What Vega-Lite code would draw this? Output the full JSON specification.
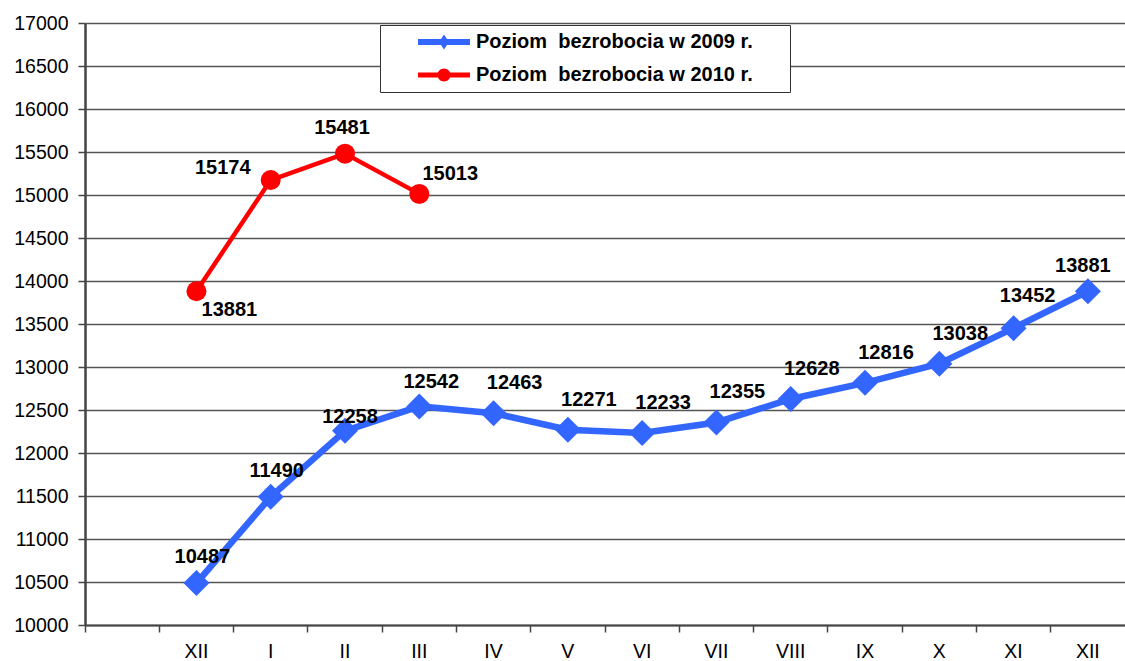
{
  "$schema": "https://vega.github.io/schema/vega-lite/v6.json",
  "width": 1040,
  "height": 602,
  "autosize": {"type": "none"},
  "padding": {"left": 85, "top": 23, "right": 0, "bottom": 36},
  "background": "white",
  "config": {
    "view": {"stroke": null},
    "font": "Liberation Sans",
    "text": {"font": "Liberation Sans"}
  },
  "data": {
    "values": [
      {"miesiac": "XIIp", "seria": "2009", "wartosc": 10487},
      {"miesiac": "I", "seria": "2009", "wartosc": 11490},
      {"miesiac": "II", "seria": "2009", "wartosc": 12258},
      {"miesiac": "III", "seria": "2009", "wartosc": 12542},
      {"miesiac": "IV", "seria": "2009", "wartosc": 12463},
      {"miesiac": "V", "seria": "2009", "wartosc": 12271},
      {"miesiac": "VI", "seria": "2009", "wartosc": 12233},
      {"miesiac": "VII", "seria": "2009", "wartosc": 12355},
      {"miesiac": "VIII", "seria": "2009", "wartosc": 12628},
      {"miesiac": "IX", "seria": "2009", "wartosc": 12816},
      {"miesiac": "X", "seria": "2009", "wartosc": 13038},
      {"miesiac": "XI", "seria": "2009", "wartosc": 13452},
      {"miesiac": "XII", "seria": "2009", "wartosc": 13881},
      {"miesiac": "XIIp", "seria": "2010", "wartosc": 13881},
      {"miesiac": "I", "seria": "2010", "wartosc": 15174},
      {"miesiac": "II", "seria": "2010", "wartosc": 15481},
      {"miesiac": "III", "seria": "2010", "wartosc": 15013}
    ]
  },
  "encoding": {
    "x": {
      "field": "miesiac",
      "type": "nominal",
      "sort": null,
      "scale": {
        "type": "band",
        "domain": ["start", "XIIp", "I", "II", "III", "IV", "V", "VI", "VII", "VIII", "IX", "X", "XI", "XII"],
        "paddingInner": 0,
        "paddingOuter": 0
      },
      "axis": {
        "title": null,
        "bandPosition": 0,
        "labelExpr": "datum.value == 'start' ? '' : (datum.value == 'XIIp' ? 'XII' : datum.value)",
        "labelAngle": 0,
        "labelOverlap": false,
        "labelFontSize": 19.5,
        "labelFont": "Liberation Sans",
        "labelColor": "black",
        "labelPadding": 10,
        "tickSize": 7,
        "tickColor": "#444444",
        "tickWidth": 1.5,
        "domainColor": "#444444",
        "domainWidth": 2,
        "grid": false
      }
    },
    "y": {
      "field": "wartosc",
      "type": "quantitative",
      "scale": {"domain": [10000, 17000], "nice": false, "zero": false},
      "axis": {
        "title": null,
        "values": [10000, 10500, 11000, 11500, 12000, 12500, 13000, 13500, 14000, 14500, 15000, 15500, 16000, 16500, 17000],
        "format": "d",
        "labelFontSize": 19.5,
        "labelFont": "Liberation Sans",
        "labelColor": "black",
        "labelPadding": 10,
        "tickSize": 7,
        "tickColor": "#444444",
        "tickWidth": 1.5,
        "domainColor": "#444444",
        "domainWidth": 2.5,
        "grid": true,
        "gridColor": "#555555",
        "gridWidth": 1.3,
        "gridOpacity": 1
      }
    }
  },
  "layer": [
    {
      "transform": [{"filter": "datum.seria == '2009'"}],
      "mark": {"type": "line", "color": "#3366FF", "strokeWidth": 6.5}
    },
    {
      "transform": [{"filter": "datum.seria == '2009'"}],
      "mark": {"type": "point", "shape": "diamond", "filled": true, "size": 676, "color": "#3366FF", "opacity": 1}
    },
    {
      "transform": [{"filter": "datum.seria == '2010'"}],
      "mark": {"type": "line", "color": "#FF0000", "strokeWidth": 4.5}
    },
    {
      "transform": [{"filter": "datum.seria == '2010'"}],
      "mark": {"type": "point", "shape": "circle", "filled": true, "size": 400, "color": "#FF0000", "opacity": 1}
    },
    {
      "transform": [{"filter": "datum.seria == '2009' && (datum.miesiac == 'XIIp' || datum.miesiac == 'I')"}],
      "mark": {"type": "text", "fontWeight": "bold", "fontSize": 20, "color": "black", "baseline": "middle", "align": "center", "dx": 6, "dy": -26},
      "encoding": {"text": {"field": "wartosc", "type": "quantitative", "format": "d"}}
    },
    {
      "transform": [{"filter": "datum.seria == '2009' && datum.miesiac == 'II'"}],
      "mark": {"type": "text", "fontWeight": "bold", "fontSize": 20, "color": "black", "baseline": "middle", "align": "center", "dx": 5, "dy": -14},
      "encoding": {"text": {"field": "wartosc", "type": "quantitative", "format": "d"}}
    },
    {
      "transform": [{"filter": "datum.seria == '2009' && datum.miesiac == 'III'"}],
      "mark": {"type": "text", "fontWeight": "bold", "fontSize": 20, "color": "black", "baseline": "middle", "align": "center", "dx": 12, "dy": -24},
      "encoding": {"text": {"field": "wartosc", "type": "quantitative", "format": "d"}}
    },
    {
      "transform": [{"filter": "datum.seria == '2009' && indexof(['IV','V','VI','VII','VIII','IX','X'], datum.miesiac) >= 0"}],
      "mark": {"type": "text", "fontWeight": "bold", "fontSize": 20, "color": "black", "baseline": "middle", "align": "center", "dx": 21, "dy": -30},
      "encoding": {"text": {"field": "wartosc", "type": "quantitative", "format": "d"}}
    },
    {
      "transform": [{"filter": "datum.seria == '2009' && datum.miesiac == 'XI'"}],
      "mark": {"type": "text", "fontWeight": "bold", "fontSize": 20, "color": "black", "baseline": "middle", "align": "center", "dx": 14, "dy": -32},
      "encoding": {"text": {"field": "wartosc", "type": "quantitative", "format": "d"}}
    },
    {
      "transform": [{"filter": "datum.seria == '2009' && datum.miesiac == 'XII'"}],
      "mark": {"type": "text", "fontWeight": "bold", "fontSize": 20, "color": "black", "baseline": "middle", "align": "center", "dx": -5, "dy": -25},
      "encoding": {"text": {"field": "wartosc", "type": "quantitative", "format": "d"}}
    },
    {
      "transform": [{"filter": "datum.seria == '2010' && datum.miesiac == 'XIIp'"}],
      "mark": {"type": "text", "fontWeight": "bold", "fontSize": 20, "color": "black", "baseline": "middle", "align": "center", "dx": 33, "dy": 19},
      "encoding": {"text": {"field": "wartosc", "type": "quantitative", "format": "d"}}
    },
    {
      "transform": [{"filter": "datum.seria == '2010' && datum.miesiac == 'I'"}],
      "mark": {"type": "text", "fontWeight": "bold", "fontSize": 20, "color": "black", "baseline": "middle", "align": "center", "dx": -48, "dy": -12},
      "encoding": {"text": {"field": "wartosc", "type": "quantitative", "format": "d"}}
    },
    {
      "transform": [{"filter": "datum.seria == '2010' && datum.miesiac == 'II'"}],
      "mark": {"type": "text", "fontWeight": "bold", "fontSize": 20, "color": "black", "baseline": "middle", "align": "center", "dx": -3, "dy": -26},
      "encoding": {"text": {"field": "wartosc", "type": "quantitative", "format": "d"}}
    },
    {
      "transform": [{"filter": "datum.seria == '2010' && datum.miesiac == 'III'"}],
      "mark": {"type": "text", "fontWeight": "bold", "fontSize": 20, "color": "black", "baseline": "middle", "align": "center", "dx": 31, "dy": -20},
      "encoding": {"text": {"field": "wartosc", "type": "quantitative", "format": "d"}}
    },
    {
      "transform": [{"filter": "datum.wartosc < 0"}],
      "mark": {"type": "point", "filled": true, "size": 400, "opacity": 1},
      "encoding": {
        "color": {
          "field": "seria",
          "type": "nominal",
          "scale": {"domain": ["2009", "2010"], "range": ["#3366FF", "#FF0000"]},
          "legend": {
            "title": null,
            "orient": "none",
            "legendX": 295,
            "legendY": 2,
            "padding": 7,
            "strokeColor": "#333333",
            "fillColor": "white",
            "labelFont": "Liberation Sans",
            "labelFontSize": 20,
            "labelFontWeight": "bold",
            "labelColor": "black",
            "labelLimit": 600,
            "labelOffset": 69,
            "rowPadding": 13,
            "symbolSize": 400,
            "symbolStrokeWidth": 0,
            "symbolOpacity": 1,
            "labelExpr": "'Poziom\u00a0 bezrobocia w ' + datum.label + ' r.'"
          }
        },
        "shape": {
          "field": "seria",
          "type": "nominal",
          "scale": {
            "domain": ["2009", "2010"],
            "range": [
              "M2.1,-0.3L4.4,-0.3L4.7,-0.75L5,-0.3L7.3,-0.3L7.3,0.3L5,0.3L4.7,0.75L4.4,0.3L2.1,0.3Z M38.6,0L38.6,0.01Z",
              "M2.1,-0.25L7.3,-0.25L7.3,0.25L2.1,0.25Z M5.35,0A0.65,0.65 0 1,1 4.05,0A0.65,0.65 0 1,1 5.35,0Z M38.6,0L38.6,0.01Z"
            ]
          },
          "legend": {
            "title": null,
            "orient": "none",
            "legendX": 295,
            "legendY": 2,
            "padding": 7,
            "strokeColor": "#333333",
            "fillColor": "white",
            "labelFont": "Liberation Sans",
            "labelFontSize": 20,
            "labelFontWeight": "bold",
            "labelColor": "black",
            "labelLimit": 600,
            "labelOffset": 69,
            "rowPadding": 13,
            "symbolSize": 400,
            "symbolStrokeWidth": 0,
            "symbolOpacity": 1,
            "labelExpr": "'Poziom\u00a0 bezrobocia w ' + datum.label + ' r.'"
          }
        }
      }
    }
  ]
}
